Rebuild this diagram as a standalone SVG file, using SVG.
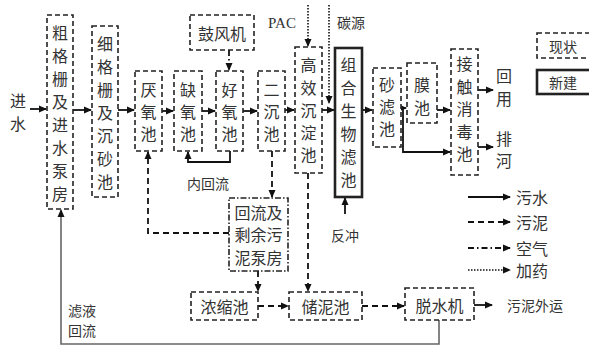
<svg xmlns="http://www.w3.org/2000/svg" width="589" height="345" viewBox="0 0 589 345">
<defs>
<style>
.t{font-family:"Noto Sans CJK SC","Noto Sans CJK JP",sans-serif;font-size:16px;fill:#333;text-anchor:middle;dominant-baseline:central}
.ts{font-family:"Liberation Serif",serif;font-size:15px;fill:#333;text-anchor:middle;dominant-baseline:central}
.ex{fill:#fff;stroke:#222;stroke-width:1.6;stroke-dasharray:5 3}
.nw{fill:#fff;stroke:#222;stroke-width:2.6}
.pump{fill:#fff;stroke:#222;stroke-width:1.6;stroke-dasharray:6 2 1.5 2}
.w{fill:none;stroke:#111;stroke-width:1.8}
.s{fill:none;stroke:#111;stroke-width:1.8;stroke-dasharray:6 4}
.a{fill:none;stroke:#111;stroke-width:1.8;stroke-dasharray:6 3 1.5 3}
.d{fill:none;stroke:#111;stroke-width:1.6;stroke-dasharray:1.5 1.5}
.r{fill:none;stroke:#666;stroke-width:1.6}
</style>
<marker id="ah" markerWidth="8" markerHeight="8" refX="7" refY="4" orient="auto" markerUnits="userSpaceOnUse">
<path d="M0,0.5 L8,4 L0,7.5 Z" fill="#111"/>
</marker>
</defs>
<rect width="589" height="345" fill="#fff"/>

<g id="connectors">
<path class="w" d="M30,109 H46" marker-end="url(#ah)"/>
<path class="w" d="M73,110 H91" marker-end="url(#ah)"/>
<path class="w" d="M118,110 H134" marker-end="url(#ah)"/>
<path class="w" d="M162,111 H173" marker-end="url(#ah)"/>
<path class="w" d="M202,111 H215" marker-end="url(#ah)"/>
<path class="w" d="M243,111 H257" marker-end="url(#ah)"/>
<path class="w" d="M285,110 H294" marker-end="url(#ah)"/>
<path class="w" d="M322,110 H334" marker-end="url(#ah)"/>
<path class="w" d="M362,110 H372" marker-end="url(#ah)"/>
<path class="w" d="M400,108 H406" marker-end="url(#ah)"/>
<path class="w" d="M403,108 V152 H450" marker-end="url(#ah)"/>
<path class="w" d="M437,110 H450" marker-end="url(#ah)"/>
<path class="w" d="M478,90 H493" marker-end="url(#ah)"/>
<path class="w" d="M478,147 H493" marker-end="url(#ah)"/>
<path class="w" d="M230,151 V162 H188 V152" marker-end="url(#ah)"/>
<path class="w" d="M345,214 V198" marker-end="url(#ah)"/>
<path class="w" d="M474,305 H492" marker-end="url(#ah)"/>
<path class="s" d="M272,151 V197" marker-end="url(#ah)"/>
<path class="s" d="M229,233 H148 V152" marker-end="url(#ah)"/>
<path class="s" d="M258,271 V291" marker-end="url(#ah)"/>
<path class="s" d="M258,306 H288" marker-end="url(#ah)"/>
<path class="s" d="M308,173 V291" marker-end="url(#ah)"/>
<path class="s" d="M362,306 H404" marker-end="url(#ah)"/>
<path class="a" d="M229,50 V70" marker-end="url(#ah)"/>
<path class="d" d="M308,5 V46" marker-end="url(#ah)"/>
<path class="d" d="M329,5 V103" marker-end="url(#ah)"/>
<path class="r" d="M439,320 V344 H61 V210" marker-end="url(#ah)"/>
</g>

<g id="n1"><rect class="ex" x="47" y="15" width="26" height="194"/>
<text class="t" x="60" y="32">粗</text><text class="t" x="60" y="55">格</text><text class="t" x="60" y="78">栅</text><text class="t" x="60" y="101">及</text><text class="t" x="60" y="124">进</text><text class="t" x="60" y="147">水</text><text class="t" x="60" y="170">泵</text><text class="t" x="60" y="193">房</text></g>
<g id="n2"><rect class="ex" x="92" y="26" width="26" height="171"/>
<text class="t" x="105" y="43">细</text><text class="t" x="105" y="66">格</text><text class="t" x="105" y="89">栅</text><text class="t" x="105" y="112">及</text><text class="t" x="105" y="135">沉</text><text class="t" x="105" y="158">砂</text><text class="t" x="105" y="181">池</text></g>
<g id="n3"><rect class="ex" x="135" y="71" width="27" height="80"/>
<text class="t" x="148.5" y="89">厌</text><text class="t" x="148.5" y="111">氧</text><text class="t" x="148.5" y="133">池</text></g>
<g id="n4"><rect class="ex" x="174" y="71" width="28" height="80"/>
<text class="t" x="188" y="89">缺</text><text class="t" x="188" y="111">氧</text><text class="t" x="188" y="133">池</text></g>
<g id="n5"><rect class="ex" x="216" y="71" width="27" height="80"/>
<text class="t" x="229.5" y="89">好</text><text class="t" x="229.5" y="111">氧</text><text class="t" x="229.5" y="133">池</text></g>
<g id="n6"><rect class="ex" x="258" y="71" width="27" height="80"/>
<text class="t" x="271.5" y="89">二</text><text class="t" x="271.5" y="111">沉</text><text class="t" x="271.5" y="133">池</text></g>
<g id="n7"><rect class="ex" x="295" y="47" width="27" height="126"/>
<text class="t" x="308.5" y="64">高</text><text class="t" x="308.5" y="87">效</text><text class="t" x="308.5" y="110">沉</text><text class="t" x="308.5" y="132">淀</text><text class="t" x="308.5" y="154">池</text></g>
<g id="n8"><rect class="nw" x="335" y="48" width="27" height="149"/>
<text class="t" x="348.5" y="64">组</text><text class="t" x="348.5" y="87">合</text><text class="t" x="348.5" y="110">生</text><text class="t" x="348.5" y="133">物</text><text class="t" x="348.5" y="156">滤</text><text class="t" x="348.5" y="179">池</text></g>
<g id="n9"><rect class="ex" x="373" y="68" width="28" height="79"/>
<text class="t" x="387" y="84">砂</text><text class="t" x="387" y="106">滤</text><text class="t" x="387" y="128">池</text></g>
<g id="n10"><rect class="ex" x="407" y="63" width="30" height="60"/>
<text class="t" x="422" y="84">膜</text><text class="t" x="422" y="107">池</text></g>
<g id="n11"><rect class="ex" x="451" y="49" width="27" height="126"/>
<text class="t" x="464.5" y="63">接</text><text class="t" x="464.5" y="86">触</text><text class="t" x="464.5" y="108">消</text><text class="t" x="464.5" y="131">毒</text><text class="t" x="464.5" y="153">池</text></g>
<g id="n12"><rect class="ex" x="190" y="15" width="64" height="35"/>
<text class="t" x="222" y="33">鼓风机</text></g>
<g id="n13"><rect class="pump" x="229" y="198" width="59" height="73"/>
<text class="t" x="258.5" y="212">回流及</text><text class="t" x="258.5" y="234">剩余污</text><text class="t" x="258.5" y="257">泥泵房</text></g>
<g id="n14"><rect class="ex" x="191" y="292" width="67" height="28"/>
<text class="t" x="224.5" y="306">浓缩池</text></g>
<g id="n15"><rect class="ex" x="289" y="292" width="73" height="28"/>
<text class="t" x="325.5" y="306">储泥池</text></g>
<g id="n16"><rect class="ex" x="405" y="288" width="69" height="32"/>
<text class="t" x="439.5" y="305">脱水机</text></g>

<g id="labels">
<text class="t" x="18" y="100">进</text><text class="t" x="18" y="123">水</text>
<text class="ts" x="282" y="23">PAC</text>
<text class="t" x="351" y="22" style="font-size:14px">碳源</text>
<text class="t" x="345" y="235" style="font-size:14px">反冲</text>
<text class="t" x="208" y="183" style="font-size:14px">内回流</text>
<text class="t" x="504" y="75">回</text><text class="t" x="504" y="98">用</text>
<text class="t" x="504" y="138">排</text><text class="t" x="504" y="160">河</text>
<text class="t" x="535" y="305" style="font-size:14px">污泥外运</text>
<text class="t" x="82" y="310" style="font-size:14px">滤液</text>
<text class="t" x="82" y="330" style="font-size:14px">回流</text>
</g>

<g id="legend">
<rect class="ex" x="537" y="33" width="60" height="25"/>
<text class="t" x="563" y="45.5" style="font-size:14px">现状</text>
<rect class="nw" x="537" y="70" width="60" height="24"/>
<text class="t" x="563" y="82" style="font-size:14px">新建</text>
<path class="w" d="M468,197 H510" marker-end="url(#ah)"/>
<path class="s" d="M468,222 H510" marker-end="url(#ah)"/>
<path class="a" d="M468,248 H510" marker-end="url(#ah)"/>
<path class="d" d="M468,270 H510" marker-end="url(#ah)"/>
<text class="t" x="532" y="197">污水</text>
<text class="t" x="532" y="222">污泥</text>
<text class="t" x="532" y="248">空气</text>
<text class="t" x="532" y="270">加药</text>
</g>
</svg>
